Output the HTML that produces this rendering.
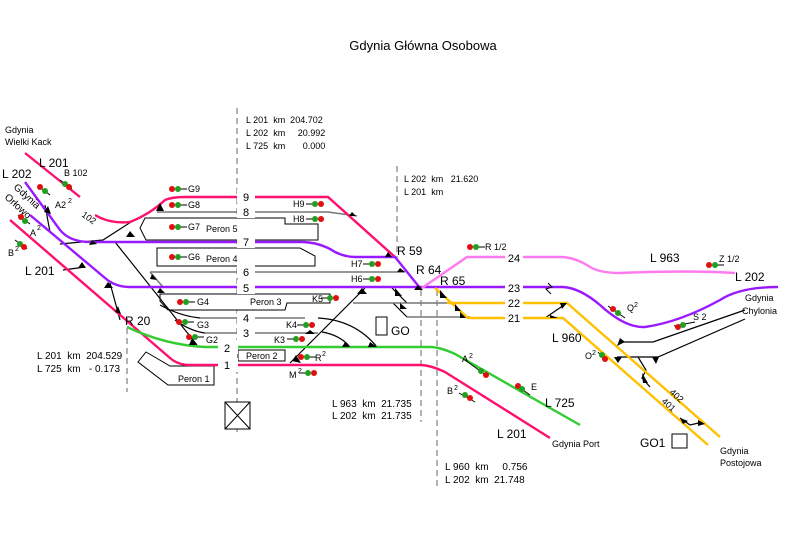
<!DOCTYPE html>
<html><head><meta charset="utf-8"><style>
html,body{margin:0;padding:0;background:#fff}
svg{display:block}
text{font-family:"Liberation Sans",sans-serif;fill:#000;white-space:pre}
</style></head><body>
<svg width="788" height="538" viewBox="0 0 788 538" xmlns="http://www.w3.org/2000/svg" xml:space="preserve">
<defs>
<g id="sig"><line x1="4" y1="0" x2="12" y2="0" stroke="#000" stroke-width="1"/><circle cx="-3" cy="0" r="3" fill="#e01010"/><circle cx="3" cy="0" r="3" fill="#20a020"/></g>
<g id="sigr"><line x1="-12" y1="0" x2="-4" y2="0" stroke="#000" stroke-width="1"/><circle cx="-3" cy="0" r="3" fill="#20a020"/><circle cx="3" cy="0" r="3" fill="#e01010"/></g>
</defs>
<rect width="788" height="538" fill="#fff"/>
<text x="423" y="50" font-size="13" text-anchor="middle">Gdynia Główna Osobowa</text>

<g stroke="#999" stroke-width="1.5" stroke-dasharray="6,4" fill="none">
<line x1="237" y1="108" x2="237" y2="432"/>
<line x1="127" y1="318" x2="127" y2="392"/>
<line x1="397" y1="166" x2="397" y2="258"/>
<line x1="421" y1="290" x2="421" y2="422"/>
<line x1="437" y1="290" x2="437" y2="490"/>
</g>

<g fill="#fff" stroke="#000" stroke-width="1">
<path d="M145,218 H285 V224 H318 V240 H146 L140,228 Z"/>
<path d="M157,248 H300 L315,256 V266 H157 Z"/>
<path d="M160,294 H330 V303 H287 L285,310 H168 L160,301 Z"/>
<rect x="238" y="350" width="47" height="11"/>
<path d="M146,352 L170,366 H214 V385 H168 L138,362 Z"/>
<rect x="376" y="317" width="11" height="18"/>
<rect x="672" y="434" width="15" height="14"/>
<rect x="225" y="402" width="25" height="27"/>
<path d="M225,402 L250,429 M250,402 L225,429"/>
</g>

<g stroke="#000" stroke-width="1.2" fill="none">
<path d="M131,222 L103,240 L60,244"/>
<path d="M45,205 L50,232"/>
<path d="M63,270 L85,267"/>
<path d="M110,283 L120,320"/>
<path d="M115,242 L197,345"/>
<path d="M160,305 Q180,316 200,318"/>
<path d="M175,320 Q190,331 205,333"/>
<path d="M290,363 L365,288"/>
<path d="M318,318 Q355,320 377,347"/>
<path d="M322,332 Q340,335 350,347"/>
<path d="M392,288 L407,303"/>
<path d="M393,303 L407,317"/>
<path d="M545,318 L567,303"/>
<path d="M623,342 H653 L745,310"/>
<path d="M617,357 H658 L745,319"/>
<path d="M638,357 L646,370 L642,378 L650,387"/>
<path d="M680,418 L690,425 L703,422"/>
</g>
<g stroke="#777" stroke-width="1.5" fill="none">
<path d="M157,212 H328 L357,216"/>
<path d="M150,272 H405"/>
<path d="M150,272 L163,287"/>
<path d="M200,318 H305"/>
<path d="M205,333 H318"/>
<path d="M353,303 H447"/>
<path d="M407,317 H470"/>
</g>

<g fill="none" stroke-width="2.4">
<path d="M25,153 L80,197 M95,215 Q110,224 130,222 Q150,214 165,200 Q172,197 185,197 H328 L395,257" stroke="#ff0f6e"/>
<path d="M10,220 L170,358 Q178,365 190,365 H420 Q430,365 445,372 L550,438" stroke="#ff0f6e"/>
<path d="M127,327 Q165,345 205,347 H430 Q440,347 455,354 L580,425" stroke="#33cc33"/>
<path d="M25,182 L60,230 Q70,242 90,242 H300 Q320,242 335,252 Q345,257 355,257 H395 L420,288" stroke="#9a1aff"/>
<path d="M30,215 L105,278 Q115,287 130,287 H563 Q580,288 600,305 Q625,328 645,327 Q680,322 720,300 Q740,287 778,287" stroke="#9a1aff"/>
<path d="M422,288 L467,257 H560 Q575,257 590,267 Q600,273 620,273 Q690,270 735,273" stroke="#ff7af0"/>
<path d="M435,288 L468,318 H563 L708,445" stroke="#ffc000"/>
<path d="M447,303 H567 L720,437" stroke="#ffc000"/>
</g>

<g fill="#fff">
<rect x="237" y="189" width="18" height="14"/><rect x="237" y="204" width="18" height="14"/>
<rect x="237" y="234" width="18" height="14"/><rect x="237" y="264" width="18" height="14"/>
<rect x="237" y="280" width="18" height="14"/><rect x="237" y="311" width="18" height="14"/>
<rect x="237" y="326" width="18" height="14"/><rect x="218" y="340" width="20" height="14"/>
<rect x="218" y="358" width="20" height="14"/>
<rect x="505" y="250" width="18" height="14"/><rect x="505" y="281" width="18" height="14"/>
<rect x="505" y="296" width="18" height="14"/><rect x="505" y="311" width="18" height="14"/>
</g>

<g fill="#000">
<path d="M160,203 L164,211 L156,211Z"/><path d="M130,231 L135,237 L126,237Z"/>
<path d="M92,240 L97,244 L89,245Z"/><path d="M48,206 L51,214 L44,212Z"/>
<path d="M82,262 L86,268 L78,268Z"/><path d="M108,282 L113,288 L104,288Z"/>
<path d="M118,306 L121,314 L115,312Z"/><path d="M152,274 L157,280 L150,279Z"/>
<path d="M160,288 L165,293 L157,293Z"/><path d="M192,338 L196,345 L189,345Z"/>
<path d="M352,212 L356,216 L349,216Z"/><path d="M388,252 L392,257 L385,257Z"/>
<path d="M400,268 L405,272 L397,272Z"/><path d="M362,288 L367,294 L357,294Z"/>
<path d="M310,330 L315,334 L305,334Z"/><path d="M296,355 L301,363 L292,361Z"/>
<path d="M370,342 L377,347 L368,347Z"/><path d="M345,342 L350,347 L342,347Z"/>
<path d="M395,288 L402,296 L395,296Z"/><path d="M400,303 L407,309 L400,309Z"/>
<path d="M418,285 L423,290 L414,290Z"/><path d="M440,290 L447,298 L440,298Z"/>
<path d="M455,304 L461,311 L455,311Z"/><path d="M460,312 L466,318 L460,318Z"/>
<path d="M550,315 L558,318 L550,318Z"/><path d="M560,303 L567,303 L562,309Z"/>
<path d="M620,338 L625,342 L617,346Z"/><path d="M614,357 L622,357 L618,363Z"/>
<path d="M652,357 L659,357 L656,364Z"/><path d="M642,373 L648,383 L643,383Z"/>
<path d="M680,418 L688,421 L683,424Z"/><path d="M698,420 L705,424 L698,426Z"/>
</g>

<g>
<use href="#sig" x="175" y="189"/><use href="#sig" x="175" y="205"/><use href="#sig" x="175" y="227"/>
<use href="#sig" x="175" y="257"/><use href="#sig" x="183" y="302"/><use href="#sig" x="182" y="322"/>
<use href="#sig" x="192" y="337"/><use href="#sig" x="473" y="247"/><use href="#sig" x="712" y="265"/>
<use href="#sigr" x="318" y="204"/><use href="#sigr" x="318" y="219"/><use href="#sigr" x="375" y="264"/>
<use href="#sigr" x="375" y="279"/><use href="#sigr" x="333" y="298"/><use href="#sigr" x="309" y="325"/>
<use href="#sigr" x="299" y="339"/><use href="#sigr" x="311" y="373"/><use href="#sig" x="304" y="357"/>
</g>
<g stroke="#000" stroke-width="1">
<line x1="60" y1="180" x2="72" y2="189"/><line x1="38" y1="186" x2="50" y2="195"/>
<line x1="18" y1="215" x2="30" y2="224"/><line x1="15" y1="240" x2="27" y2="249"/>
<line x1="465" y1="360" x2="487" y2="376"/><line x1="516" y1="385" x2="530" y2="395"/>
<line x1="459" y1="393" x2="475" y2="402"/><line x1="608" y1="306" x2="625" y2="318"/>
<line x1="598" y1="352" x2="605" y2="361"/><line x1="674" y1="326" x2="695" y2="322"/>
</g>
<g>
<circle cx="65" cy="184" r="3" fill="#20a020"/><circle cx="69" cy="187" r="3" fill="#e01010"/>
<circle cx="40" cy="187" r="3" fill="#e01010"/><circle cx="45" cy="191" r="3" fill="#20a020"/>
<circle cx="21" cy="217" r="3" fill="#e01010"/><circle cx="25" cy="221" r="3" fill="#20a020"/>
<circle cx="20" cy="244" r="3" fill="#20a020"/><circle cx="24" cy="247" r="3" fill="#e01010"/>
<circle cx="481" cy="371" r="3" fill="#20a020"/><circle cx="486" cy="375" r="3" fill="#e01010"/>
<circle cx="518" cy="386" r="3" fill="#e01010"/><circle cx="522" cy="389" r="3" fill="#20a020"/>
<circle cx="465" cy="395" r="3" fill="#20a020"/><circle cx="470" cy="398" r="3" fill="#e01010"/>
<circle cx="613" cy="309" r="3" fill="#e01010"/><circle cx="618" cy="313" r="3" fill="#20a020"/>
<circle cx="602" cy="355" r="3" fill="#20a020"/><circle cx="605" cy="359" r="3" fill="#e01010"/>
<circle cx="678" cy="327" r="3" fill="#e01010"/><circle cx="683" cy="325" r="3" fill="#20a020"/>
</g>

<g font-size="9">
<text x="188" y="192">G9</text><text x="188" y="208">G8</text><text x="188" y="230">G7</text>
<text x="188" y="260">G6</text><text x="197" y="305">G4</text><text x="197" y="328">G3</text>
<text x="206" y="343">G2</text>
<text x="293" y="207">H9</text><text x="293" y="222">H8</text><text x="351" y="267">H7</text>
<text x="351" y="282">H6</text><text x="312" y="302">K5</text><text x="286" y="328">K4</text>
<text x="274" y="343">K3</text><text x="289" y="378">M</text><text x="298" y="373" font-size="7">2</text>
<text x="315" y="361">R</text><text x="322" y="356" font-size="7">2</text>
<text x="206" y="232">Peron 5</text><text x="206" y="262">Peron 4</text><text x="250" y="305">Peron 3</text>
<text x="246" y="359">Peron 2</text><text x="178" y="382">Peron 1</text>
<text x="64" y="176">B 102</text><text x="55" y="208">A2</text><text x="68" y="203" font-size="7">2</text>
<text x="30" y="236">A</text><text x="37" y="230" font-size="7">2</text>
<text x="8" y="256">B</text><text x="15" y="251" font-size="7">2</text>
<text x="485" y="250">R 1/2</text><text x="719" y="262">Z 1/2</text>
<text x="627" y="311">Q</text><text x="634" y="307" font-size="7">2</text>
<text x="693" y="320">S 2</text><text x="585" y="359">O</text><text x="592" y="355" font-size="7">2</text>
<text x="462" y="362">A</text><text x="469" y="358" font-size="7">2</text><text x="531" y="390">E</text>
<text x="447" y="394">B</text><text x="454" y="390" font-size="7">2</text>
<text x="246" y="123">L 201  km  204.702</text><text x="246" y="136">L 202  km     20.992</text>
<text x="246" y="149">L 725  km       0.000</text>
<text x="404" y="182">L 202  km   21.620</text><text x="404" y="195">L 201  km</text>
<text x="37" y="359" font-size="10">L 201  km  204.529</text><text x="37" y="372" font-size="10">L 725  km   - 0.173</text>
<text x="332" y="407" font-size="10">L 963  km  21.735</text><text x="332" y="419" font-size="10">L 202  km  21.735</text>
<text x="445" y="470" font-size="10">L 960  km     0.756</text><text x="445" y="483" font-size="10">L 202  km  21.748</text>
<text x="5" y="133">Gdynia</text><text x="5" y="145">Wielki Kack</text>
<text x="552" y="447">Gdynia Port</text><text x="720" y="454">Gdynia</text><text x="720" y="466">Postojowa</text>
<text x="745" y="301">Gdynia</text><text x="742" y="314">Chylonia</text>
<text x="81" y="216" transform="rotate(35 81 216)">102</text>
<text x="669" y="393" transform="rotate(42 669 393)">402</text>
<text x="661" y="402" transform="rotate(42 661 402)">401</text>
<text x="13" y="188" font-size="10" transform="rotate(42 13 188)">Gdynia</text>
<text x="4" y="198" font-size="10" transform="rotate(42 4 198)">Orłowo</text>
</g>
<g font-size="12">
<text x="39" y="167">L 201</text><text x="2" y="178">L 202</text><text x="25" y="275">L 201</text>
<text x="125" y="325">R 20</text><text x="397" y="255">R 59</text><text x="416" y="274">R 64</text>
<text x="440" y="285">R 65</text><text x="650" y="262">L 963</text><text x="735" y="281">L 202</text>
<text x="552" y="342">L 960</text><text x="545" y="407">L 725</text><text x="497" y="438">L 201</text>
<text x="391" y="335">GO</text><text x="640" y="447">GO1</text>
</g>
<g font-size="11" text-anchor="middle">
<text x="246" y="201">9</text><text x="246" y="216">8</text><text x="246" y="246">7</text>
<text x="246" y="276">6</text><text x="246" y="292">5</text><text x="246" y="322">4</text>
<text x="246" y="337">3</text><text x="227" y="352">2</text><text x="227" y="369">1</text>
<text x="514" y="262">24</text><text x="514" y="292">23</text><text x="514" y="307">22</text><text x="514" y="322">21</text>
</g>
<path d="M548,283 L552,287 L546,289 L551,294" stroke="#000" fill="none" stroke-width="1"/>
</svg>
</body></html>
